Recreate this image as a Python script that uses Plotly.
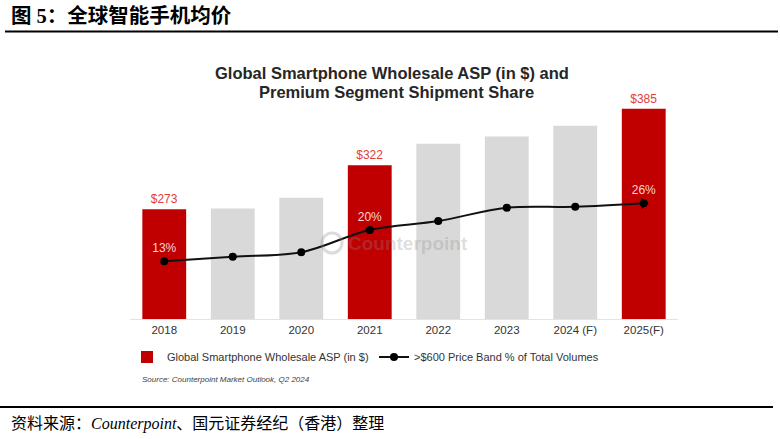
import plotly.graph_objects as go

years = ["2018", "2019", "2020", "2021", "2022", "2023", "2024 (F)", "2025(F)"]
asp = [273, 274, 286, 322, 346, 354, 366, 385]
asp_labels = ["$273", "", "", "$322", "", "", "", "$385"]
premium_share = [13, 14, 15, 20, 22, 25, 25.2, 26]
share_labels = ["13%", "", "", "20%", "", "", "", "26%"]
highlight = [True, False, False, True, False, False, False, True]

RED = "#C00000"
GRAY = "#D9D9D9"

W, H = 780, 439
L, R, T, B = 130, 678, 100, 319


def px(x):
    return (x - L) / (R - L)


def py(y):
    return (B - y) / (B - T)


fig = go.Figure()

fig.add_trace(go.Bar(
    x=years, y=asp,
    marker=dict(color=[RED if h else GRAY for h in highlight], line=dict(width=0)),
    text=asp_labels, textposition="outside",
    textfont=dict(family="Liberation Sans", size=12, color="#E0403A"),
    cliponaxis=False,
    name="Global Smartphone Wholesale ASP (in $)",
    yaxis="y",
))

fig.add_trace(go.Scatter(
    x=years, y=premium_share,
    mode="lines+markers+text",
    line=dict(color="#111111", width=2, shape="spline", smoothing=1),
    marker=dict(color="#000000", size=8),
    text=share_labels, textposition="top center",
    textfont=dict(family="Liberation Sans", size=12, color="#F6D6D6"),
    name=">$600 Price Band % of Total Volumes",
    yaxis="y2", cliponaxis=False,
))

fig.add_trace(go.Scatter(
    x=years[-1:], y=premium_share[-1:],
    mode="markers",
    marker=dict(color="#000000", size=10, symbol="triangle-right"),
    showlegend=False, yaxis="y2", hoverinfo="skip", cliponaxis=False,
))

shapes = [
    dict(type="line", xref="paper", yref="paper", x0=px(5), x1=px(778), y0=py(31.5), y1=py(31.5),
         line=dict(color="#000000", width=2)),
    dict(type="line", xref="paper", yref="paper", x0=px(0), x1=px(773), y0=py(407), y1=py(407),
         line=dict(color="#000000", width=2)),
    dict(type="circle", xref="paper", yref="paper", x0=px(322), x1=px(342), y0=py(233), y1=py(253),
         line=dict(color="rgba(140,140,140,0.30)", width=3)),
]

annotations = [
    dict(text="<b>图 5：全球智能手机均价</b>", x=px(9), y=py(15), xref="paper", yref="paper",
         xanchor="left", yanchor="middle", showarrow=False,
         font=dict(family="Liberation Serif, Noto Sans CJK SC", size=20.5, color="#000000")),
    dict(text="<b>Global Smartphone Wholesale ASP (in $) and</b>", x=px(392), y=py(73),
         xref="paper", yref="paper", xanchor="center", yanchor="middle", showarrow=False,
         font=dict(family="Liberation Sans", size=16.5, color="#262626")),
    dict(text="<b>Premium Segment Shipment Share</b>", x=px(396), y=py(92),
         xref="paper", yref="paper", xanchor="center", yanchor="middle", showarrow=False,
         font=dict(family="Liberation Sans", size=16.5, color="#262626")),
    dict(text="<b>Counterpoint</b>", x=px(346), y=py(243), xref="paper", yref="paper",
         xanchor="left", yanchor="middle", showarrow=False,
         font=dict(family="Liberation Sans", size=19, color="rgba(140,140,140,0.28)")),
    dict(text="<i>Source: Counterpoint Market Outlook, Q2 2024</i>", x=px(140), y=py(379),
         xref="paper", yref="paper", xanchor="left", yanchor="middle", showarrow=False,
         font=dict(family="Liberation Sans", size=8, color="#404040")),
    dict(text="资料来源：<i>Counterpoint</i>、国元证券经纪（香港）整理", x=px(9), y=py(424),
         xref="paper", yref="paper", xanchor="left", yanchor="middle", showarrow=False,
         font=dict(family="Liberation Serif, Noto Sans CJK SC", size=16, color="#000000")),
]

fig.update_layout(
    width=W, height=H,
    margin=dict(l=L, r=W - R, t=T, b=H - B, pad=0),
    paper_bgcolor="white", plot_bgcolor="white",
    bargap=0.36,
    showlegend=True,
    legend=dict(orientation="h", x=px(127), y=py(357), xanchor="left", yanchor="middle",
                font=dict(family="Liberation Sans", size=11, color="#333333"),
                bgcolor="rgba(0,0,0,0)", itemwidth=30, entrywidth=202, entrywidthmode="pixels",
                traceorder="normal"),
    xaxis=dict(showline=True, linecolor="#E3E3E3", linewidth=1, ticks="", showgrid=False,
               tickfont=dict(family="Liberation Sans", size=11.5, color="#333333"),
               zeroline=False, fixedrange=True),
    yaxis=dict(range=[150.9, 394.7], visible=False, showgrid=False, zeroline=False),
    yaxis2=dict(range=[0, 49.2], overlaying="y", side="right", visible=False,
                showgrid=False, zeroline=False),
    shapes=shapes,
    annotations=annotations,
    font=dict(family="Liberation Sans"),
)

fig.write_html("out.html", config={"displayModeBar": False},
               post_script="document.body.style.margin='0';document.body.style.overflow='hidden';")
